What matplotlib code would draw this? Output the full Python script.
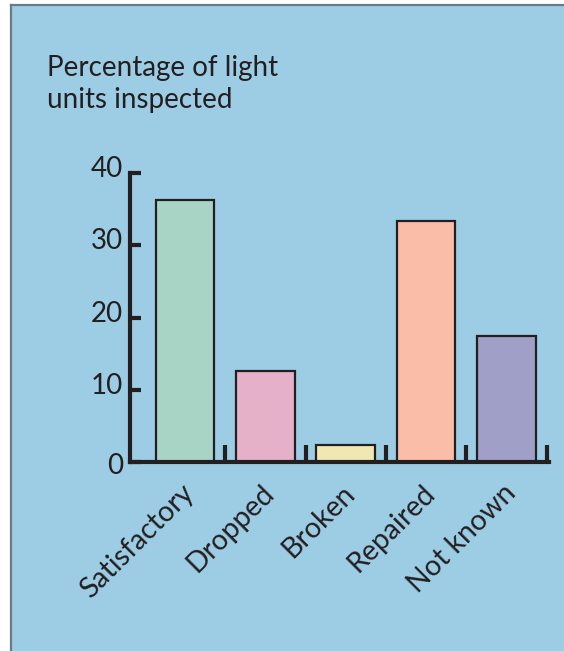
import matplotlib.pyplot as plt
from matplotlib.patches import Rectangle

categories = ["Satisfactory", "Dropped", "Broken", "Repaired", "Not known"]
percentages = [36.2, 12.6, 2.4, 33.4, 17.4]
bar_colors = ["#a8d4c6", "#e4b1c8", "#efe8b3", "#f9bda8", "#a09fc7"]
y_ticks = [0, 10, 20, 30, 40]

BG = "#9dcde5"
INK = "#231f20"
W, H = 564, 651

plt.rcParams["font.family"] = ["Lato", "DejaVu Sans"]

fig = plt.figure(figsize=(W / 100, H / 100), dpi=100)
fig.patch.set_facecolor("white")

# light blue panel with grey rule along the top and left
panel = Rectangle((11 / W, 0), 1 - 11 / W, 1 - 5 / H, transform=fig.transFigure,
                  facecolor=BG, edgecolor="none", zorder=-10)
fig.patches.append(panel)
fig.add_artist(plt.Line2D([11 / W, 1], [1 - 5 / H, 1 - 5 / H], color="#6b7b86",
                          lw=1.6, transform=fig.transFigure, zorder=-5))
fig.add_artist(plt.Line2D([11 / W, 11 / W], [0, 1 - 5 / H], color="#6b7b86",
                          lw=1.6, transform=fig.transFigure, zorder=-5))

ax = fig.add_axes([130 / W, (H - 462) / H, (549 - 130) / W, (462 - 173) / H])
ax.set_facecolor("none")

x = list(range(len(categories)))
ax.bar(x, percentages, width=0.73, color=bar_colors, edgecolor=INK, linewidth=1.6,
       zorder=2)

ax.set_xlim(-0.685, 4.53)
ax.set_ylim(0, 40)

for side in ["top", "right"]:
    ax.spines[side].set_visible(False)
for side in ["left", "bottom"]:
    ax.spines[side].set_linewidth(3.0)
    ax.spines[side].set_color(INK)
    ax.spines[side].set_zorder(3)

ax.set_yticks(y_ticks)
ax.set_yticklabels([])
ax.tick_params(axis="y", direction="in", length=8, width=3, color=INK)

# numbers sit on their tick, the zero drops below the baseline
for v in y_ticks:
    dy = -9 if v == 0 else -3
    ax.annotate(str(v), xy=(0, v), xycoords=("axes fraction", "data"),
                xytext=(-5, dy), textcoords="offset points",
                ha="right", va="baseline", fontsize=20, color=INK)

# category dividers drawn as upward ticks between bars
ax.set_xticks([i + 0.5 for i in x])
ax.set_xticklabels([])
ax.tick_params(axis="x", direction="in", length=12, width=3, color=INK)

for i, name in enumerate(categories):
    ax.annotate(name, xy=(i, 0), xycoords=("data", "axes fraction"),
                xytext=(-3, -13), textcoords="offset points",
                rotation=45, ha="right", va="top", rotation_mode="anchor",
                fontsize=20.5, color=INK)

fig.text(47 / W, 1 - 55 / H, "Percentage of light\nunits inspected",
         ha="left", va="top", fontsize=20, color=INK, linespacing=1.3)

fig.savefig("out.png", dpi=100, facecolor=fig.get_facecolor())
